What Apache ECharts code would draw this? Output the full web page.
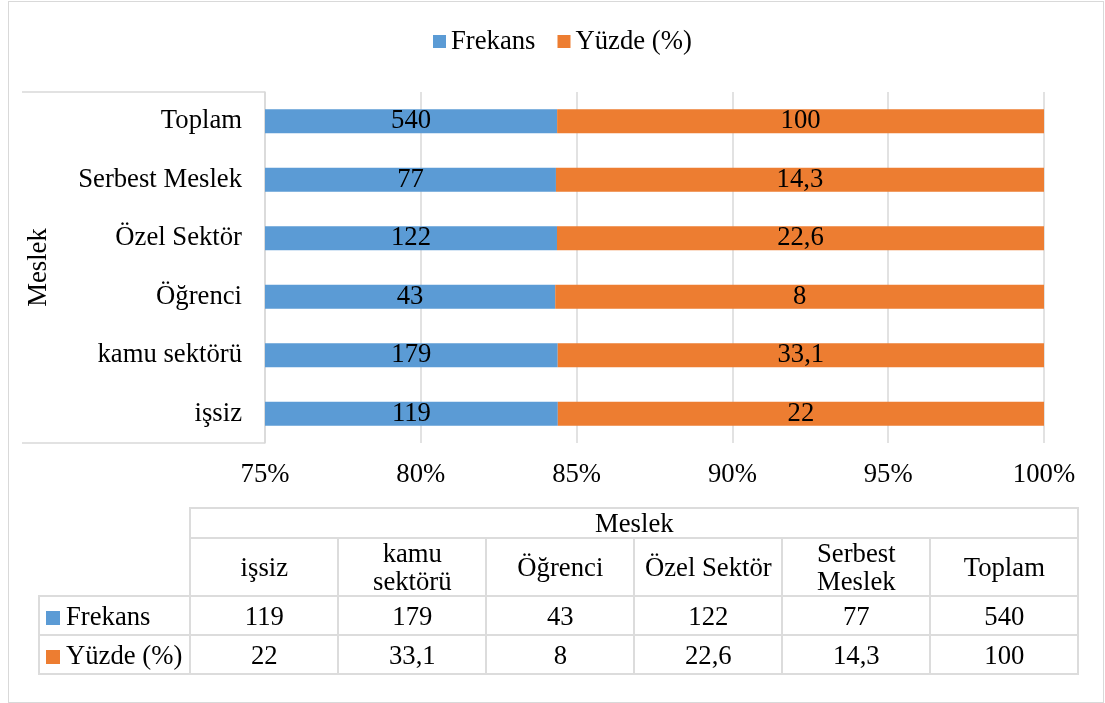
<!DOCTYPE html>
<html>
<head>
<meta charset="utf-8">
<title>Meslek</title>
<script src="https://cdn.jsdelivr.net/npm/echarts@6.0.0/dist/echarts.min.js"></script>
<style>
    html, body { margin: 0; padding: 0; background: #fff; }
    #wrap { position: relative; width: 1105px; height: 703px; overflow: hidden; }
    #chart { position: absolute; left: 0; top: 0; width: 1105px; height: 703px; }
    #frame { position: absolute; left: 8px; top: 1px; width: 1094px; height: 700px;
             border: 1px solid #d9d9d9; pointer-events: none; }
    #dataTable { position: absolute; left: 38px; top: 507px; border-collapse: collapse;
                 table-layout: fixed; font-family: 'Liberation Serif', 'Times New Roman', serif;
                 font-size: 26.7px; color: #000; }
    #dataTable td { border: 2px solid #dcdcdc; text-align: center; padding: 0 7px;
                    line-height: 28px; white-space: normal; }
    #dataTable td.blank { border: none; }
    #dataTable td.name { text-align: left; padding-left: 6px; white-space: nowrap; }
    #dataTable .key { display: inline-block; width: 14px; height: 14px; margin-right: 6px;
                      vertical-align: 0px; }
</style>
</head>
<body>
<div id="wrap">
    <div id="chart"></div>
    <table id="dataTable"></table>
    <div id="frame"></div>
</div>
<script>
// veriler
var categories = ['işsiz', 'kamu sektörü', 'Öğrenci', 'Özel Sektör', 'Serbest Meslek', 'Toplam'];
var frekans = [119, 179, 43, 122, 77, 540];
var yuzde = [22, 33.1, 8, 22.6, 14.3, 100];
var seriesNames = ['Frekans', 'Yüzde (%)'];
var colors = ['#5B9BD5', '#ED7D31'];
var groupTitle = 'Meslek';

var fontFamily = "'Liberation Serif', 'Times New Roman', serif";
var fontSize = 26.7;

function fmt(v) {
    return String(v).replace('.', ',');
}

// %100 yığılmış çubuk: her satırın payı
function shares(own, other) {
    var out = [];
    for (var i = 0; i < own.length; i++) {
        out.push({value: own[i] / (own[i] + other[i]) * 100, raw: own[i]});
    }
    return out;
}

function barSeries(name, data, color) {
    return {
        name: name,
        type: 'bar',
        stack: 'total',
        barWidth: 24,
        itemStyle: {color: color},
        label: {
            show: true,
            position: 'inside',
            color: '#000',
            fontFamily: fontFamily,
            fontSize: fontSize,
            formatter: function (p) {
                return fmt(p.data.raw);
            }
        },
        data: data
    };
}

var myChart = echarts.init(document.getElementById('chart'));
myChart.setOption({
    animation: false,
    textStyle: {fontFamily: fontFamily},
    legend: {
        left: 428,
        top: 23,
        icon: 'rect',
        itemWidth: 13,
        itemHeight: 13,
        itemGap: 22,
        textStyle: {color: '#000', fontSize: fontSize, fontFamily: fontFamily},
        data: seriesNames
    },
    grid: {
        left: 265,
        right: 61,
        top: 92,
        bottom: 260,
        containLabel: false,
        outerBoundsMode: 'none'
    },
    xAxis: {
        type: 'value',
        min: 75,
        max: 100,
        interval: 5,
        axisLine: {show: false},
        axisTick: {show: false},
        splitLine: {lineStyle: {color: '#d9d9d9', width: 1.5}},
        axisLabel: {
            formatter: '{value}%',
            margin: 18,
            color: '#000',
            fontSize: fontSize,
            fontFamily: fontFamily
        }
    },
    yAxis: {
        type: 'category',
        data: categories,
        name: groupTitle,
        nameLocation: 'middle',
        nameGap: 213,
        nameRotate: 90,
        nameTextStyle: {color: '#000', fontSize: fontSize, fontFamily: fontFamily},
        axisLine: {show: true, lineStyle: {color: '#d9d9d9', width: 1.5}},
        axisTick: {show: false},
        splitLine: {show: false},
        axisLabel: {
            margin: 23,
            color: '#000',
            fontSize: fontSize,
            fontFamily: fontFamily
        }
    },
    // kategori kutusunun üst ve alt çizgileri
    graphic: [
        {type: 'line', shape: {x1: 22, y1: 92, x2: 265, y2: 92},
         style: {stroke: '#d9d9d9', lineWidth: 1.5}, silent: true},
        {type: 'line', shape: {x1: 22, y1: 443, x2: 265, y2: 443},
         style: {stroke: '#d9d9d9', lineWidth: 1.5}, silent: true}
    ],
    series: [
        barSeries(seriesNames[0], shares(frekans, yuzde), colors[0]),
        barSeries(seriesNames[1], shares(yuzde, frekans), colors[1])
    ]
});

// veri tablosu
function buildTable() {
    var t = document.getElementById('dataTable');
    var html = '<colgroup><col style="width:147px">';
    for (var i = 0; i < categories.length; i++) {
        html += '<col style="width:148px">';
    }
    html += '</colgroup>';
    html += '<tr style="height:29px"><td class="blank"></td><td colspan="' + categories.length + '">' + groupTitle + '</td></tr>';
    html += '<tr style="height:56px"><td class="blank"></td>';
    for (var i = 0; i < categories.length; i++) {
        html += '<td>' + categories[i] + '</td>';
    }
    html += '</tr>';
    var rows = [frekans, yuzde];
    for (var r = 0; r < rows.length; r++) {
        html += '<tr style="height:39px"><td class="name"><span class="key" style="background:' + colors[r] + '"></span>' + seriesNames[r] + '</td>';
        for (var i = 0; i < rows[r].length; i++) {
            html += '<td>' + fmt(rows[r][i]) + '</td>';
        }
        html += '</tr>';
    }
    t.innerHTML = html;
}
buildTable();
</script>
</body>
</html>
